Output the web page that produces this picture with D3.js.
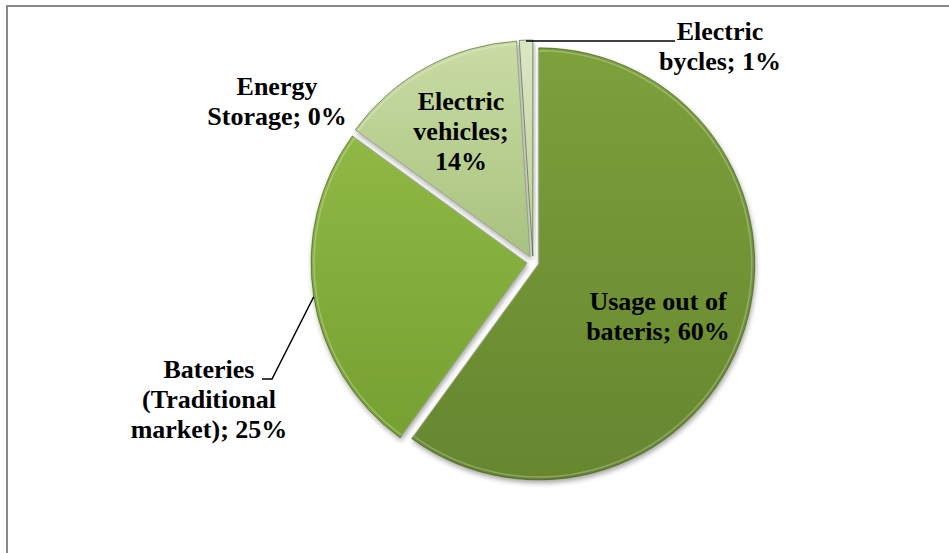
<!DOCTYPE html>
<html lang="en">
<head>
    <meta charset="utf-8">
    <title>Battery usage pie</title>
    <script src="https://d3js.org/d3.v7.min.js"></script>
    <style>
        body { margin: 0; background: #fff; }
        svg#chart { display: block; }
        .lbl { font-family: "Liberation Serif", "Times New Roman", serif; font-weight: bold; font-size: 26px; fill: #000; }
    </style>
</head>
<body>
    <svg id="chart" width="949" height="553"></svg>
    <script type="text/javascript">
        // data, clockwise from 12 o'clock
        const categories = ["Usage out of bateris", "Bateries (Traditional market)", "Energy Storage", "Electric vehicles", "Electric bycles"];
        const values = [60, 25, 0, 14, 1];
        const labelLines = [
            ["Usage out of", "bateris; 60%"],
            ["Bateries", "(Traditional", "market); 25%"],
            ["Energy", "Storage; 0%"],
            ["Electric", "vehicles;", "14%"],
            ["Electric", "bycles; 1%"]
        ];

        const fills = [
            ["#7da03b", "#66862f"],
            ["#8fb845", "#76a031"],
            ["#b9cf8c", "#9bb86a"],
            ["#c9dca4", "#a8c27e"],
            ["#dbe7c4", "#bccf98"]
        ];

        // label placement (center x, first baseline)
        const labelPos = [[658, 310], [209, 378], [277, 95], [461, 110], [720, 40]];

        var svg = d3.select("#chart");
        const cx = 533, cy = 262, R = 216, explode = 6;

        svg.append("rect")
            .attr("x", 7).attr("y", 6)
            .attr("width", 980).attr("height", 600)
            .attr("fill", "none").attr("stroke", "#888").attr("stroke-width", 2);

        let defs = svg.append("defs");
        let shadow = defs.append("filter").attr("id", "shadow")
            .attr("x", "-20%").attr("y", "-20%").attr("width", "140%").attr("height", "140%");
        shadow.append("feDropShadow").attr("dx", 1).attr("dy", 3).attr("stdDeviation", 2.5)
            .attr("flood-color", "#000").attr("flood-opacity", 0.35);

        fills.forEach(function(f, i){
            let g = defs.append("linearGradient").attr("id", "grad" + i)
                .attr("x1", 0).attr("y1", 0).attr("x2", 0).attr("y2", 1);
            g.append("stop").attr("offset", "0%").attr("stop-color", f[0]);
            g.append("stop").attr("offset", "100%").attr("stop-color", f[1]);
        });

        let pie = d3.pie().sort(null).value(d => d);
        let arcs = pie(values);
        let arc = d3.arc().innerRadius(0).outerRadius(R);

        function shift(d){
            let a = (d.startAngle + d.endAngle) / 2;
            return "translate(" + (Math.sin(a) * explode) + "," + (-Math.cos(a) * explode) + ")";
        }

        let pieG = svg.append("g").attr("transform", "translate(" + cx + "," + cy + ")");

        pieG.selectAll("path.slice").data(arcs).enter()
            .filter(d => d.value > 0)
            .append("path")
            .attr("class", "slice")
            .attr("transform", shift)
            .attr("d", arc)
            .attr("fill", d => "url(#grad" + d.index + ")")
            .attr("stroke", "rgba(40,60,10,0.5)")
            .attr("stroke-width", 1)
            .attr("filter", "url(#shadow)");

        // inner highlight to give a bevel look
        let innerArc = d3.arc().innerRadius(0).outerRadius(R - 3);
        pieG.selectAll("path.bevel").data(arcs).enter()
            .filter(d => d.value > 2)
            .append("path")
            .attr("class", "bevel")
            .attr("transform", shift)
            .attr("d", innerArc)
            .attr("fill", "none")
            .attr("stroke", "rgba(255,255,255,0.25)")
            .attr("stroke-width", 1.5);

        // leader lines
        let bycle = arcs[4], bat = arcs[1];
        let ba = (bycle.startAngle + bycle.endAngle) / 2;
        let bx = cx + Math.sin(ba) * (R + explode), by = cy - Math.cos(ba) * (R + explode);
        svg.append("path")
            .attr("d", "M" + bx + "," + (by + 1) + " H" + 675)
            .attr("fill", "none").attr("stroke", "#000").attr("stroke-width", 1.5);

        let bt = (bat.startAngle + bat.endAngle) / 2;
        let tx = cx + Math.sin(bt) * (R + explode), ty = cy - Math.cos(bt) * (R + explode);
        svg.append("path")
            .attr("d", "M" + tx + "," + ty + " L" + 272 + "," + (labelPos[1][1] + 1) + " H" + 262)
            .attr("fill", "none").attr("stroke", "#000").attr("stroke-width", 1.5);

        // labels
        labelLines.forEach(function(lines, i){
            let t = svg.append("text").attr("class", "lbl")
                .attr("text-anchor", "middle");
            lines.forEach(function(s, j){
                t.append("tspan").attr("x", labelPos[i][0]).attr("y", labelPos[i][1] + j * 30).text(s);
            });
        });
    </script>
</body>
</html>
